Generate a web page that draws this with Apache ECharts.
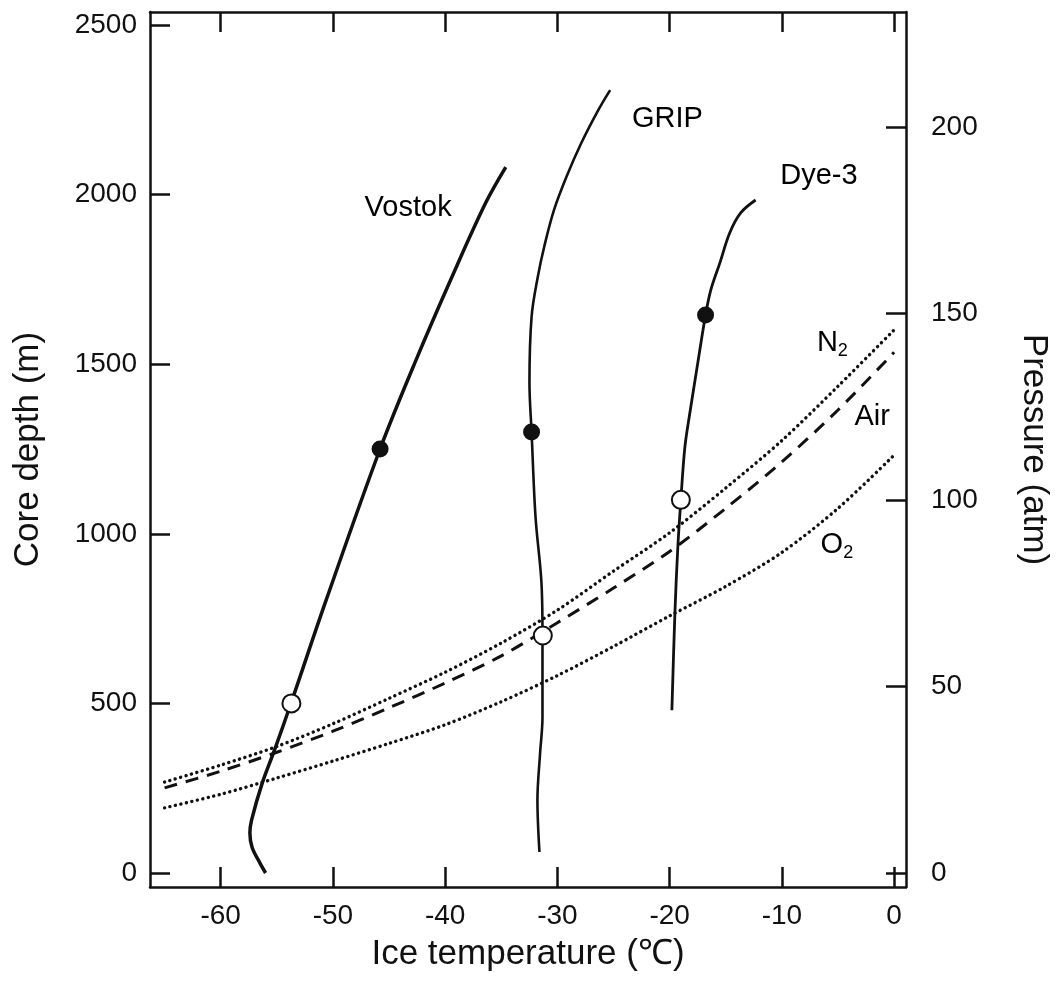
<!DOCTYPE html>
<html>
<head>
<meta charset="utf-8">
<title>Ice temperature vs core depth</title>
<script src="https://cdn.jsdelivr.net/npm/echarts@6/dist/echarts.min.js"></script>
<style>
  html, body { margin: 0; padding: 0; background: #fff; }
  #chart { width: 1059px; height: 988px; }
</style>
</head>
<body>
<div id="chart"></div>
<script>
// temperature (°C), depth (m)
var vostok = [[-56.0, 0], [-56.5, 29], [-57.2, 75], [-57.4, 118], [-57.25, 156], [-56.3, 265],
    [-55.2, 363], [-53.7, 504], [-50.6, 805], [-45.8, 1250], [-42.6, 1512], [-39.4, 1757],
    [-36.4, 1975], [-34.6, 2081]];
var grip = [[-31.6, 62], [-31.78, 215], [-31.55, 350], [-31.33, 460], [-31.33, 700], [-31.42, 855],
    [-31.95, 1050], [-32.3, 1300], [-32.49, 1445], [-32.3, 1640], [-31.75, 1757], [-31.15, 1850],
    [-30.3, 1955], [-29.2, 2052], [-27.87, 2152], [-26.36, 2249], [-25.3, 2308]];
var dye3 = [[-19.8, 480], [-19.53, 766], [-19.27, 961], [-19.0, 1100], [-18.64, 1256], [-18.2, 1356],
    [-17.49, 1504], [-16.8, 1645], [-16.33, 1719], [-15.53, 1798], [-14.65, 1887], [-13.67, 1946],
    [-12.34, 1984]];

// gas hydrate formation curves, depth at every 5 °C
var gasTemps = [-65, -60, -55, -50, -45, -40, -35, -30, -25, -20, -15, -10, -5, 0];
var n2Depth = [268, 318, 373, 440, 515, 592, 678, 775, 890, 1003, 1135, 1275, 1435, 1601];
var airDepth = [251, 300, 356, 418, 487, 560, 640, 738, 840, 948, 1075, 1212, 1365, 1535];
var o2Depth = [192, 232, 280, 330, 382, 437, 505, 582, 668, 758, 845, 945, 1075, 1232];

var filledPts = [[-45.8, 1250], [-32.3, 1300], [-16.8, 1645]];
var openPts = [[-53.7, 500], [-31.3, 700], [-19.0, 1100]];

var labelNames = ['Vostok', 'GRIP', 'Dye-3', '{n|N}{s|2}', 'Air', '{n|O}{s|2}'];
var labelAt = [[-43.3, 1960], [-20.2, 2223], [-6.7, 2055], [-5.5, 1562], [-1.95, 1344], [-5.1, 967]];

var tempTicks = [-60, -50, -40, -30, -20, -10, 0];
var depthTicks = [0, 500, 1000, 1500, 2000, 2500];
var pressTicks = [0, 50, 100, 150, 200];

var font = 'Liberation Sans, Arial, Helvetica, sans-serif';
var ink = '#111';

function plain(v) { return String(v); }

function pairs(xs, ys) {
    return xs.map(function (x, i) { return [x, ys[i]]; });
}

function frameAxis(extra) {
    var base = {
        type: 'value',
        axisLine: { show: true, onZero: false, lineStyle: { color: ink, width: 2.5 } },
        axisTick: { show: true, inside: true, length: 20, lineStyle: { color: ink, width: 2.5 } },
        axisLabel: { show: true, color: ink, fontSize: 28, fontFamily: font, formatter: plain },
        splitLine: { show: false },
        nameTextStyle: { color: ink, fontSize: 35, fontFamily: font }
    };
    for (var k in extra) {
        if (typeof extra[k] === 'object' && !Array.isArray(extra[k]) && base[k]) {
            base[k] = Object.assign({}, base[k], extra[k]);
        } else {
            base[k] = extra[k];
        }
    }
    return base;
}

var mcharts = echarts.init(document.getElementById('chart'));

var option = {
    animation: false,
    backgroundColor: '#fff',
    grid: { left: 150, right: 150, top: 12, bottom: 101 },
    xAxis: [
        frameAxis({
            min: -66.3, max: 1.06, position: 'bottom',
            name: 'Ice temperature (℃)', nameLocation: 'middle', nameGap: 50,
            axisTick: { customValues: tempTicks },
            axisLabel: { customValues: tempTicks, margin: 15 }
        }),
        frameAxis({
            min: -66.3, max: 1.06, position: 'top',
            axisTick: { customValues: tempTicks },
            axisLabel: { show: false }
        })
    ],
    yAxis: [
        frameAxis({
            min: -41.3, max: 2538.3, position: 'left',
            name: 'Core depth (m)', nameLocation: 'middle', nameGap: 104,
            axisTick: { customValues: depthTicks },
            axisLabel: { customValues: depthTicks, margin: 13 }
        }),
        frameAxis({
            min: -3.75, max: 230.8, position: 'right',
            name: 'Pressure (atm)', nameLocation: 'middle', nameGap: 110, nameRotate: -90,
            axisTick: { customValues: pressTicks },
            axisLabel: { customValues: pressTicks, margin: 25 }
        })
    ],
    series: [
        {
            name: 'Vostok', type: 'line', data: vostok, smooth: 0.35, showSymbol: false,
            lineStyle: { color: ink, width: 3.5 }, z: 3
        },
        {
            name: 'GRIP', type: 'line', data: grip, smooth: 0.35, showSymbol: false,
            lineStyle: { color: ink, width: 2.6 }, z: 3
        },
        {
            name: 'Dye-3', type: 'line', data: dye3, smooth: 0.35, showSymbol: false,
            lineStyle: { color: ink, width: 2.8 }, z: 3
        },
        {
            name: 'N2', type: 'line', data: pairs(gasTemps, n2Depth), smooth: 0.3, showSymbol: false,
            lineStyle: { color: ink, width: 3.4, type: [0.1, 5.5], cap: 'round' }
        },
        {
            name: 'Air', type: 'line', data: pairs(gasTemps, airDepth), smooth: 0.3, showSymbol: false,
            lineStyle: { color: ink, width: 3, type: [13, 9] }
        },
        {
            name: 'O2', type: 'line', data: pairs(gasTemps, o2Depth), smooth: 0.3, showSymbol: false,
            lineStyle: { color: ink, width: 3.4, type: [0.1, 5.5], cap: 'round' }
        },
        {
            name: 'filled', type: 'scatter', data: filledPts, symbol: 'circle', symbolSize: 17,
            itemStyle: { color: '#111', opacity: 1 }, z: 5
        },
        {
            name: 'open', type: 'scatter', data: openPts, symbol: 'circle', symbolSize: 18,
            itemStyle: { color: '#fff', borderColor: ink, borderWidth: 2, opacity: 1 }, z: 5
        },
        {
            name: 'labels', type: 'scatter', symbolSize: 1, silent: true, z: 6,
            itemStyle: { color: 'rgba(0,0,0,0)', opacity: 1 },
            data: labelAt.map(function (p, i) { return { value: p, name: labelNames[i] }; }),
            label: {
                show: true, position: 'inside', formatter: '{b}',
                color: '#000', fontSize: 29, fontFamily: font, textBorderWidth: 0,
                rich: {
                    n: { fontSize: 29, fontFamily: font, color: '#000', lineHeight: 34, textBorderWidth: 0 },
                    s: { fontSize: 18, fontFamily: font, color: '#000', lineHeight: 18, verticalAlign: 'bottom', textBorderWidth: 0 }
                }
            }
        }
    ]
};

mcharts.setOption(option, true);
</script>
</body>
</html>
